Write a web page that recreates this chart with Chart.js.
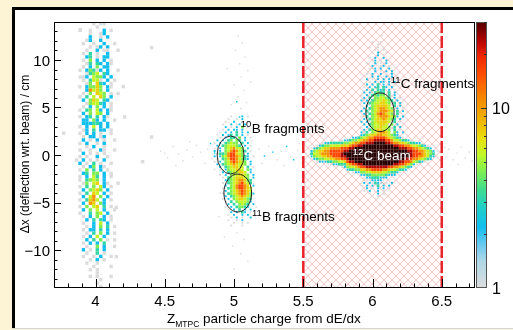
<!DOCTYPE html>
<html>
<head>
<meta charset="utf-8">
<script src="https://cdn.jsdelivr.net/npm/chart.js@4.4.0/dist/chart.umd.min.js"></script>
<style>
html, body { margin: 0; padding: 0; background: #fdf4d6; }
#wrap { width: 513px; height: 330px; }
</style>
</head>
<body>
<div id="wrap"><canvas id="chart" width="513" height="330"></canvas></div>
<script>
// -----------------------------
// Data
// -----------------------------
const xRange = [3.7, 6.74];
const yRange = [-14, 14];
const zRange = [1, 30];
const xTickLabels = [4, 4.5, 5, 5.5, 6, 6.5];
const yTickLabels = [-10, -5, 0, 5, 10];
const zTickLabels = [1, 10];
const beamBox = [5.5, 6.5];

// cell codes -> bin content
const levelCodes = "123456789X";
const levelCounts = [1, 2.2, 3.2, 4.4, 5.6, 7.3, 10.5, 16, 24, 80];

// Z = 4 column, bins 0.025 x 0.35 cm, first column 3.825, first row from +14 down
const beRows = [
  "      1 11    ", "       1      ", "  1  1   2 1  ", "     1  12    ", "     2  1 2   ",
  "    12  2     ", "   1  1  2  1 ", "     1 12 2   ", "    1  2 11  1", "   1 3 1  2   ",
  "    23 1 22   ", "   1 4 2 2 1  ", "    13 32 21  ", "   1 2 4 22   ", "  1 24312 2  1",
  "    1345 32   ", "   12 5442 2  ", "   1 3551 2 1 ", "    14 632 1  ", "  1 24464 21  ",
  "    27564 2   ", "   1 4 654 1 1", "  1 3 5 64 2  ", "   2 465 32   ", "    145532 1  ",
  "   1 2 4 2 1  ", "  1 34 52 21  ", "   2 4 54 2   ", "  1 23 3 21   ", "   22 42 2  1 ",
  "   222332 2   ", "  1 2 5 2 2   ", "   12 3 22 1  ", "  1 2 2 1  1  ", "   1 22 12    ",
  "   2 1 2 1  1 ", "  1 2  1 2    ", "    1 2  1    ", "  1  1  21  1 ", "   2 1 1 1    ",
  "  1 1  2  1   ", " 1 2 1 1 2    ", "  2 1 3 1  1  ", "   1 24 21    ", "  1 4 3 2 1   ",
  "   23 44 2 1  ", "  1 2 53 2 1  ", "  1 3454 2    ", "   14 56 21  1", "  1 3 4 52 1  ",
  "   2 4564 2   ", "  1 3 65 2 1  ", "   2 57 4 2   ", "  1 3675 2 1  ", "   2 76 42    ",
  "  1 4 56 3 1  ", "   2 4 5 2  1 ", "  1  3 45 2   ", "   1 2 4 2 1  ", "    2 3 32 1  ",
  "   1  2 5 2   ", "    1 2 4 3 1 ", "   1 22 3 2   ", "    1 3 4 2 1 ", "   1 2 5 2    ",
  "    2 3 4 1 1 ", "   1 2 2 3    ", "    1  4 2  1 ", "   2 1 3 2    ", "    1  3 1    ",
  "   1  1 2  1  ", "     1 2 1    ", "    1  1      ", "      1    1  ", "     1 1      ",
  "       1      ", "     1 1   1  ", "        1     ", "       1      ", "        1     "
];

// boron blobs, bins 0.02 x 0.28 cm, first column 4.85, first row from +4.2 down
const boronRows = [
  "      1   2 1  ", "     1  1 2    ", "    1  2  1 1  ", "   1  2 12 2   ", "    2 1 2 4 1  ",
  "   1 2 22 2    ", "  1 2 2 3 2 2  ", "   2 23 3 2 1  ", "  1 2 33 4 2 1 ", " 2 2 34 43 2   ",
  "1 2 34544 3 2  ", " 2 3455543 2 1 ", "1 2 4567554 2  ", "2 2 45787543 1 ", " 1334788654 2  ",
  "2 24578876432 1", " 1 3468875432  ", "1 2 45787654 2 ", " 2 345676554 2 ", "  2 3456655 3 1",
  "  1 2455665 42 ", "   2 3455665 2 ", "  1 2 4556654 2", "   1 34566654 2", "    2345677643 ",
  "   1 345678653 ", "    2 4578876 2", "   1 345788765 ", "    2 45678765 ", "   1 3456787642",
  "    2 34567654 ", "   1 2 4566543 ", "    1 3 455542 ", "     2 3 4543 2", "    1 2 34432  ",
  "     1 2 3 2 2 ", "      2 2 32 1 ", "     1 2  2 2  ", "      1 2 1  2 ", "     1  1 2    ",
  "       1  1 1  ", "      1   1    "
];

// carbon region, bins 0.02 x 0.28 cm, first column 5.55, first row from +12.04 down
// rows: "first column|cells"
const carbonRows = [
  "22|1  1", "24|1", "21|1  1 1", "23|1  1", "22|1 2  1",
  "24|2 1", "21|1 2  2", "23|2 1 2", "20|1  2 1 2", "22|2  12 1",
  "21|1 2 2  2", "23|2 1 2 2", "20|1 2  2 1 2", "22|2 2 12 2", "20|2 1 2 2 2 1",
  "21|1 2 22 2 2", "20|2 2 3 2 2 1", "19|1 2 23 32 2", "20|2 3 323 2 1", "19|2 2 3433 3 2",
  "18|1 2 34344 3 2", "19|2 3 445543 2 1", "18|2 2 34556543 2", "19|2 34556654 3 2", "18|1 2 4566665 3 2",
  "19|2 345677654 2 1", "18|2 3 45677765 3 2", "19|2 345787654 3", "18|1 3 4567776542 2", "19|2 3456676543 2",
  "18|2 2 4566665 3 1", "19|2 3455665 4 2", "18|1 2 4556554 3 2", "19|2 34566554 3 1", "18|2 3 4567765 42 2",
  "", "", "", "", "", "", "", "", "", "", "", "", "", "", "", "", "", "",
  "19|2 2 3 2 1 2", "18|1 2 2 3 2 2", "20|2 1 2 2 1", "19|1 2  2 1", "21|1  2 1", "22|1 1"
];

// 12C beam, same bins, one entry per column: "first row|cells downward"
const beamCols = [
  "40|12321", "40|24542", "39|1355531", "39|2466542", "38|13567642",
  "38|24677652", "38|246777531", "38|357887631", "38|357888642", "38|357888742",
  "38|357888753", "37|13688998531", "37|24689X98632", "37|24689XX98642", "37|3579XXXX9753",
  "36|24689XXXX98531", "36|2478XXXXXX8642", "36|3579XXXXXX9742", "35|24689XXXXXX98642", "35|3578XXXXXXXX86421",
  "35|4679XXXXXXXX975321", "35|5789XXXXXXXX975321", "35|6789XXXXXXXX9864321", "35|689XXXXXXXXX986432", "35|789XXXXXXXXX9864322",
  "35|789XXXXXXXXX9864221", "35|689XXXXXXXXX975421", "35|6789XXXXXXXX97532", "35|5689XXXXXXXX8642", "35|4578XXXXXXXX8532",
  "35|34579XXXXXX97532", "35|23579XXXXXX9742", "36|24689XXXX98631", "36|13689XXXX9853", "37|3579XXX98742",
  "37|24789XX9863", "37|13689998742", "38|357888752", "38|257888741", "38|24678763",
  "39|3577752", "39|2466641", "39|135553", "40|24432", "41|232"
];

// isolated fine bins [Z, dx, code]
const haloDots = [
  [4.47, 0.4, 1], [4.52, -0.3, 1], [4.56, 0.9, 1], [4.6, 0.1, 1], [4.63, -0.6, 1], [4.66, 0.5, 1],
  [4.7, -0.2, 1], [4.73, 1.0, 1], [4.76, 0.3, 1], [4.79, -0.9, 1], [4.81, 0.6, 1], [4.84, -0.4, 1],
  [4.58, -1.1, 1], [4.68, 1.4, 1], [4.5, 0.2, 1], [4.83, 1.2, 2], [4.86, 0.2, 2],
  [5.03, 12.5, 1], [5.06, 11.8, 1], [5.01, 11.0, 1], [5.08, 10.3, 1], [5.04, 9.6, 1], [5.1, 8.9, 1],
  [5.05, 8.2, 1], [5.0, 7.4, 1], [5.07, 6.8, 1], [5.03, 6.1, 1], [5.09, 5.5, 1], [5.05, 4.9, 1],
  [4.98, 5.3, 1], [5.12, 7.7, 1], [4.95, 9.1, 1], [5.02, 5.6, 2], [5.04, 4.0, 2],
  [5.02, -8.2, 1], [5.07, -8.9, 1], [4.99, -9.6, 1], [5.05, -10.4, 1], [5.1, -11.2, 1], [5.0, -12.0, 1], [4.93, -8.6, 1],
  [4.86, -1.5, 1], [4.88, 2.2, 1], [5.14, -3.0, 1], [5.16, -5.5, 1], [4.9, -4.0, 1], [5.13, 1.5, 1], [4.89, -6.5, 1],
  [5.18, 0.6, 1], [5.22, -0.1, 2], [5.25, 0.9, 1], [5.28, 0.3, 2], [5.31, -0.5, 1], [5.34, 0.4, 1],
  [5.38, 0.9, 2], [5.41, -0.2, 1], [5.43, -0.5, 2], [5.46, 0.5, 1], [5.49, -0.8, 1], [5.52, 0.2, 1],
  [5.2, -0.9, 1], [5.36, -1.1, 1], [5.47, 1.2, 1],
  [6.47, 0.4, 1], [6.5, -0.2, 1], [6.52, 0.8, 1], [6.55, 0.6, 1], [6.58, -0.5, 1], [6.61, 0.2, 1],
  [6.64, 0.8, 1], [6.67, -0.3, 1], [6.7, 0.3, 1], [6.5, -0.8, 1], [6.62, -1.0, 1], [6.72, -0.6, 1],
  [6.04, 13.2, 1], [6.07, 12.6, 1], [6.02, -4.6, 1], [6.06, -5.3, 1], [6.0, -6.0, 1], [6.09, -4.2, 1],
  [5.97, -3.8, 1], [6.12, -3.5, 1]
];

// isolated coarse bins near the Z = 4 column [Z, dx, code]
const beStray = [
  [4.34, -0.7, 1], [4.405, 1.9, 1], [4.405, 11.3, 1], [4.15, -10.7, 1], [4.21, 4.0, 1],
  [4.15, -5.5, 1], [4.2, 7.2, 1], [3.77, 2.3, 1], [3.89, 13.2, 1], [3.89, 8.2, 1]
];

// -----------------------------
// Annotations
// -----------------------------
const ellipses = [
  { z: 4.975, y: 0.0, rz: 0.097, ry: 2.0 },
  { z: 5.027, y: -4.0, rz: 0.1, ry: 2.0 },
  { z: 6.054, y: 4.5, rz: 0.102, ry: 2.04 }
];
const isoLabels = [
  { iso: "10", text: "B fragments", z: 5.049, y: 2.32, color: "#000" },
  { iso: "11", text: "B fragments", z: 5.129, y: -6.95, color: "#000" },
  { iso: "11", text: "C fragments", z: 6.131, y: 7.05, color: "#000" },
  { iso: "12", text: "C beam", z: 5.857, y: -0.53, color: "#fff" }
];

const FONT = '"Liberation Sans", Arial, Helvetica, sans-serif';

// -----------------------------
// Palette
// -----------------------------
const palStops = [
  [0.00, [220, 220, 220]], [0.10, [176, 216, 232]], [0.17, [96, 200, 240]], [0.23, [16, 191, 240]],
  [0.30, [32, 207, 200]], [0.37, [64, 220, 144]], [0.44, [128, 239, 80]], [0.50, [192, 248, 40]],
  [0.56, [232, 224, 16]], [0.63, [240, 180, 0]], [0.71, [245, 138, 0]], [0.80, [255, 80, 0]],
  [0.87, [240, 40, 0]], [0.92, [192, 8, 0]], [0.96, [138, 0, 0]], [1.00, [80, 0, 0]]
];
function palette(f) {
  f = Math.max(0, Math.min(1, f));
  for (let i = 1; i < palStops.length; i++) {
    const [f1, c1] = palStops[i];
    const [f0, c0] = palStops[i - 1];
    if (f <= f1) {
      const t = (f - f0) / (f1 - f0);
      const c = c0.map((v, k) => Math.round(v + (c1[k] - v) * t));
      return `rgb(${c[0]},${c[1]},${c[2]})`;
    }
  }
  return "rgb(80,0,0)";
}
function colorForCount(c) {
  if (c > zRange[1]) return "#260000";
  return palette(Math.log10(c) / Math.log10(zRange[1]));
}

// -----------------------------
// Build cells
// -----------------------------
function parseLine(s) {
  const k = s.indexOf("|");
  return k < 0 ? [0, s] : [parseInt(s.slice(0, k)), s.slice(k + 1)];
}
function addGrid(out, lines, z0, y0, dz, dy, byColumn) {
  lines.forEach((line, n) => {
    const [start, str] = parseLine(line);
    for (let k = 0; k < str.length; k++) {
      const lv = levelCodes.indexOf(str[k]);
      if (lv < 0) continue;
      const col = byColumn ? n : start + k;
      const row = byColumn ? start + k : n;
      out.push({ x: z0 + (col + 0.5) * dz, y: y0 - (row + 0.5) * dy, c: levelCounts[lv], w: dz, h: dy });
    }
  });
}
function addDots(out, list, dz, dy) {
  list.forEach(([z, y, code]) => out.push({ x: z, y: y, c: levelCounts[code - 1], w: dz, h: dy }));
}

const cells = [];
addGrid(cells, beRows, 3.825, 14, 0.025, 0.35, false);
addDots(cells, beStray, 0.025, 0.35);
addGrid(cells, boronRows, 4.85, 4.2, 0.02, 0.28, false);
addGrid(cells, carbonRows, 5.55, 12.04, 0.02, 0.28, false);
addGrid(cells, beamCols, 5.55, 12.04, 0.02, 0.28, true);
addDots(cells, haloDots, 0.0105, 0.15);

function cellRadius(ctx) {
  const r = ctx.raw;
  if (!r) return 1;
  const s = ctx.chart.scales;
  const w = Math.abs(s.x.getPixelForValue(r.x + r.w) - s.x.getPixelForValue(r.x));
  const h = Math.abs(s.y.getPixelForValue(r.y + r.h) - s.y.getPixelForValue(r.y));
  // sparse fine-binned cells look speckled in the original
  const k = (r.w > 0.015 && r.w < 0.022 && r.c < 3) ? 0.7 : 1;
  return k * (w + h) / 2 / Math.SQRT2;
}

function hatchPattern() {
  const c = document.createElement("canvas");
  c.width = 8; c.height = 8;
  const g = c.getContext("2d");
  g.fillStyle = "#fffafa";
  g.fillRect(0, 0, 8, 8);
  g.strokeStyle = "rgba(218,150,150,0.65)";
  g.lineWidth = 0.75;
  g.beginPath();
  g.moveTo(0, 0); g.lineTo(8, 8);
  g.moveTo(8, 0); g.lineTo(0, 8);
  g.stroke();
  return g.createPattern(c, "repeat");
}

// -----------------------------
// Decorations: frame, ticks, titles, colour bar, labels
// -----------------------------
function drawIso(ctx, x, y, iso, text, color) {
  ctx.fillStyle = color;
  ctx.textAlign = "left";
  ctx.textBaseline = "alphabetic";
  ctx.font = `9.5px ${FONT}`;
  ctx.fillText(iso, x, y - 5.5);
  const w = ctx.measureText(iso).width;
  ctx.font = `13.5px ${FONT}`;
  ctx.fillText(text, x + w + 0.3, y);
}

const decor = {
  id: "decor",
  beforeDraw(chart) {
    const ctx = chart.ctx;
    ctx.save();
    ctx.fillStyle = "#fdf4d6";
    ctx.fillRect(0, 0, 513, 330);
    ctx.fillStyle = "#fff";
    ctx.fillRect(12, 7, 501, 321);
    ctx.fillStyle = "#000";
    ctx.fillRect(12, 7, 501, 3);
    ctx.fillRect(12, 7, 3, 321);
    ctx.fillStyle = "#d4d4d4";
    ctx.fillRect(12, 328, 501, 1);
    ctx.restore();
  },
  afterDatasetsDraw(chart) {
    const ctx = chart.ctx;
    const x = chart.scales.x, y = chart.scales.y;
    ctx.save();
    ctx.strokeStyle = "#222";
    ctx.lineWidth = 1;
    ellipses.forEach(e => {
      const cx = x.getPixelForValue(e.z), cy = y.getPixelForValue(e.y);
      const rx = Math.abs(x.getPixelForValue(e.z + e.rz) - cx);
      const ry = Math.abs(y.getPixelForValue(e.y + e.ry) - cy);
      ctx.beginPath();
      ctx.ellipse(cx, cy, rx, ry, 0, 0, Math.PI * 2);
      ctx.stroke();
    });
    isoLabels.forEach(l => drawIso(ctx, x.getPixelForValue(l.z), y.getPixelForValue(l.y), l.iso, l.text, l.color));
    ctx.restore();
  },
  afterDraw(chart) {
    const ctx = chart.ctx;
    const a = chart.chartArea;
    const x = chart.scales.x, y = chart.scales.y;
    ctx.save();
    // frame
    ctx.strokeStyle = "#000";
    ctx.lineWidth = 1;
    ctx.strokeRect(a.left + 0.5, a.top + 0.5, a.right - a.left - 1, a.bottom - a.top - 1);
    // x ticks
    ctx.beginPath();
    for (let i = 38; i <= 67; i++) {
      const v = i / 10;
      const px = Math.round(x.getPixelForValue(v)) + 0.5;
      const len = (i % 5 === 0) ? 9 : 4.5;
      ctx.moveTo(px, a.bottom);
      ctx.lineTo(px, a.bottom - len);
    }
    // y ticks
    for (let v = -13; v <= 13; v++) {
      const py = Math.round(y.getPixelForValue(v)) + 0.5;
      const len = (v % 5 === 0) ? 7 : 3.5;
      ctx.moveTo(a.left, py);
      ctx.lineTo(a.left + len, py);
    }
    ctx.stroke();
    // tick labels
    ctx.fillStyle = "#000";
    ctx.font = `15px ${FONT}`;
    ctx.textBaseline = "alphabetic";
    ctx.textAlign = "center";
    xTickLabels.forEach(v => ctx.fillText(String(v), x.getPixelForValue(v), 305.5));
    ctx.textAlign = "right";
    yTickLabels.forEach(v => ctx.fillText(v < 0 ? "\u2212" + Math.abs(v) : String(v), 50, y.getPixelForValue(v) + 5.5));
    // x title with subscript
    ctx.textAlign = "left";
    ctx.font = `13.5px ${FONT}`;
    let tx = 167;
    ctx.fillText("Z", tx, 323);
    tx += ctx.measureText("Z").width;
    ctx.font = `8.5px ${FONT}`;
    ctx.fillText("MTPC", tx, 326.5);
    tx += ctx.measureText("MTPC").width;
    ctx.font = `13.5px ${FONT}`;
    ctx.fillText(" particle charge from dE/dx", tx, 323);
    // y title
    ctx.save();
    ctx.translate(29, 154);
    ctx.rotate(-Math.PI / 2);
    ctx.textAlign = "center";
    ctx.font = `12px ${FONT}`;
    ctx.fillText("\u0394x (deflection wrt. beam) / cm", 0, 0);
    ctx.restore();
    // colour bar
    const bx0 = 476, bx1 = 487, by0 = a.top, by1 = a.bottom;
    for (let py = by0; py < by1; py++) {
      ctx.fillStyle = palette((by1 - py - 0.5) / (by1 - by0));
      ctx.fillRect(bx0, py, bx1 - bx0, 1);
    }
    ctx.strokeStyle = "#555";
    ctx.strokeRect(bx0 + 0.5, by0 + 0.5, bx1 - bx0 - 1, by1 - by0 - 1);
    const zPix = v => by1 - (by1 - by0) * Math.log10(v) / Math.log10(zRange[1]);
    ctx.strokeStyle = "#333";
    ctx.beginPath();
    [2, 3, 4, 5, 6, 7, 8, 9, 10, 20, 30].forEach(v => {
      const py = Math.round(zPix(v)) + 0.5;
      const len = (v === 10) ? 6 : 3;
      ctx.moveTo(bx1, py);
      ctx.lineTo(bx1 - len, py);
    });
    ctx.stroke();
    ctx.fillStyle = "#000";
    ctx.font = `16px ${FONT}`;
    ctx.textAlign = "left";
    zTickLabels.forEach(v => ctx.fillText(String(v), 492, zPix(v) + 6));
    ctx.restore();
  }
};

// -----------------------------
// Chart
// -----------------------------
const red = "#e8232a";
new Chart(document.getElementById("chart"), {
  type: "scatter",
  data: {
    datasets: [
      {
        type: "line",
        data: [{ x: beamBox[0], y: yRange[1] }, { x: beamBox[1], y: yRange[1] }],
        fill: "start",
        backgroundColor: hatchPattern(),
        borderColor: red,
        borderWidth: 1.5,
        pointRadius: 0,
        order: 10
      },
      {
        data: cells,
        pointStyle: "rect",
        pointRadius: cellRadius,
        pointBackgroundColor: ctx => ctx.raw ? colorForCount(ctx.raw.c) : "#ccc",
        pointBorderWidth: 0,
        order: 5
      },
      {
        type: "line",
        data: [{ x: beamBox[0], y: yRange[0] }, { x: beamBox[1], y: yRange[0] }],
        borderColor: red, borderWidth: 1.5, pointRadius: 0, fill: false, order: 2
      },
      {
        type: "line",
        data: [{ x: beamBox[0], y: yRange[0] }, { x: beamBox[0], y: yRange[1] }],
        borderColor: red, borderWidth: 2.5, borderDash: [12, 3], pointRadius: 0, fill: false, order: 1
      },
      {
        type: "line",
        data: [{ x: beamBox[1], y: yRange[0] }, { x: beamBox[1], y: yRange[1] }],
        borderColor: red, borderWidth: 2.5, borderDash: [12, 3], pointRadius: 0, fill: false, order: 1
      }
    ]
  },
  options: {
    responsive: false,
    devicePixelRatio: 1,
    animation: false,
    events: [],
    layout: { padding: { left: 54, top: 22, right: 38, bottom: 42 } },
    plugins: { legend: { display: false }, tooltip: { enabled: false } },
    scales: {
      x: { type: "linear", min: xRange[0], max: xRange[1], display: false },
      y: { type: "linear", min: yRange[0], max: yRange[1], display: false }
    }
  },
  plugins: [decor]
});
</script>
</body>
</html>
